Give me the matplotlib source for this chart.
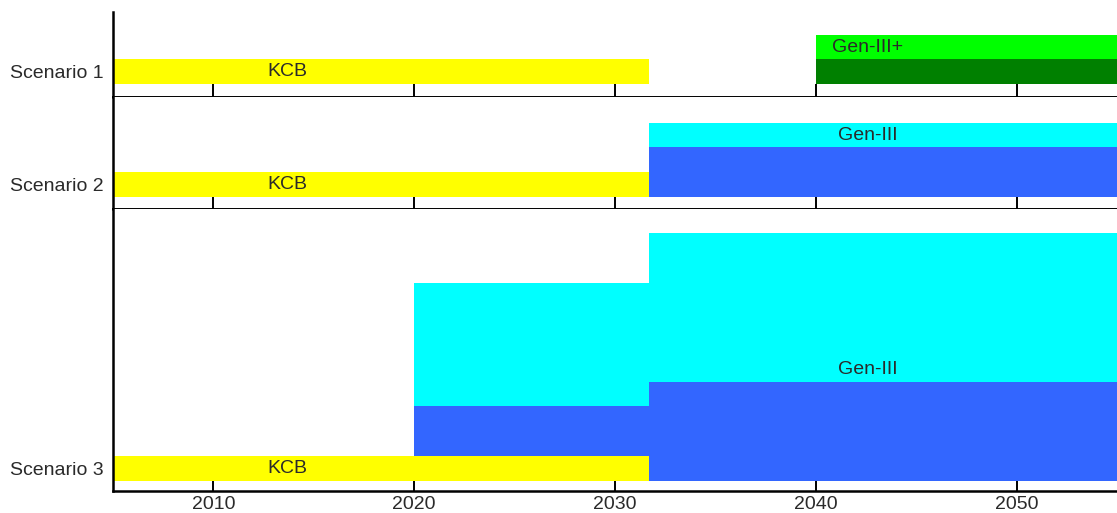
import numpy as np
import matplotlib
matplotlib.use("Agg")
import matplotlib.pyplot as plt

plt.rcParams['font.family'] = ['Liberation Sans', 'DejaVu Sans']

# ---- data ----
scenarios = ["Scenario 1", "Scenario 2", "Scenario 3"]
year_ticks = [2010, 2020, 2030, 2040, 2050]
x_range = (2005, 2055)

# period edges per scenario
s1_edges = [2000, 2031.7, 2040, 2060]
s2_edges = [2000, 2031.7, 2060]
s3_edges = [2000, 2020, 2031.7, 2060]

# stacked capacities per period (bottom to top)
s1_kcb = [1, 0, 0]
s1_gen3p_dark = [0, 0, 1]
s1_gen3p_light = [0, 0, 0.95]

s2_kcb = [1, 0]
s2_gen3_blue = [0, 2]
s2_gen3_cyan = [0, 1]

s3_kcb = [1, 1, 0]
s3_gen3_blue = [0, 2, 4]
s3_gen3_cyan = [0, 5, 6]

# y-limits of each panel (capacity units)
ylims = [(-0.54, 2.88), (-0.5, 4.04), (-0.4, 10.96)]

# labels: (text, x, y)
s1_labels = [("KCB", 2013.7, 0.5), ("Gen-III+", 2042.6, 1.45)]
s2_labels = [("KCB", 2013.7, 0.5), ("Gen-III", 2042.6, 2.5)]
s3_labels = [("KCB", 2013.7, 0.5), ("Gen-III", 2042.6, 4.5)]

c_kcb = "#FFFF00"
c_dgreen = "#008000"
c_lgreen = "#00FF00"
c_blue = "#3366FF"
c_cyan = "#00FFFF"

panels = [
    (s1_edges, [(s1_kcb, c_kcb), (s1_gen3p_dark, c_dgreen), (s1_gen3p_light, c_lgreen)], s1_labels),
    (s2_edges, [(s2_kcb, c_kcb), (s2_gen3_blue, c_blue), (s2_gen3_cyan, c_cyan)], s2_labels),
    (s3_edges, [(s3_kcb, c_kcb), (s3_gen3_blue, c_blue), (s3_gen3_cyan, c_cyan)], s3_labels),
]

spans = [hi - lo for lo, hi in ylims]
fig = plt.figure(figsize=(11.17, 5.13), dpi=100)
gs = fig.add_gridspec(3, 1, height_ratios=spans, hspace=0,
                      left=113 / 1117, right=1.0, bottom=1 - 490.5 / 513, top=1 - 12.3 / 513)

txt_color = "#2a2a2a"
for i, (edges, layers, labels) in enumerate(panels):
    ax = fig.add_subplot(gs[i])
    edges = np.array(edges, dtype=float)
    left = edges[:-1]
    width = np.diff(edges)
    bottom = np.zeros(len(left))
    for vals, col in layers:
        vals = np.array(vals, dtype=float)
        ax.bar(left, vals, width=width, bottom=bottom, align='edge',
               color=col, edgecolor='none', linewidth=0, zorder=2)
        bottom = bottom + vals
    for t, x, y in labels:
        ax.text(x, y, t, ha='center', va='center', fontsize=14, color=txt_color, zorder=3)
    ax.set_xlim(*x_range)
    ax.set_ylim(*ylims[i])
    ax.set_xticks(year_ticks)
    ax.set_yticks([0.5])
    ax.set_yticklabels([scenarios[i]], fontsize=14, color=txt_color)
    ax.tick_params(axis='y', length=0, pad=7)
    ax.tick_params(axis='x', direction='in', length=9.5, width=1.4, color='black',
                   labelsize=14, labelcolor=txt_color, pad=4)
    ax.set_axisbelow(True)
    for s in ['top', 'right']:
        ax.spines[s].set_visible(False)
    ax.spines['left'].set_linewidth(1.8)
    ax.spines['bottom'].set_linewidth(1.8 if i == 2 else 1.4)
    ax.spines['left'].set_zorder(4)
    ax.spines['bottom'].set_zorder(4)
    if i < 2:
        ax.tick_params(axis='x', labelbottom=False)

fig.savefig("out.png", dpi=100)
